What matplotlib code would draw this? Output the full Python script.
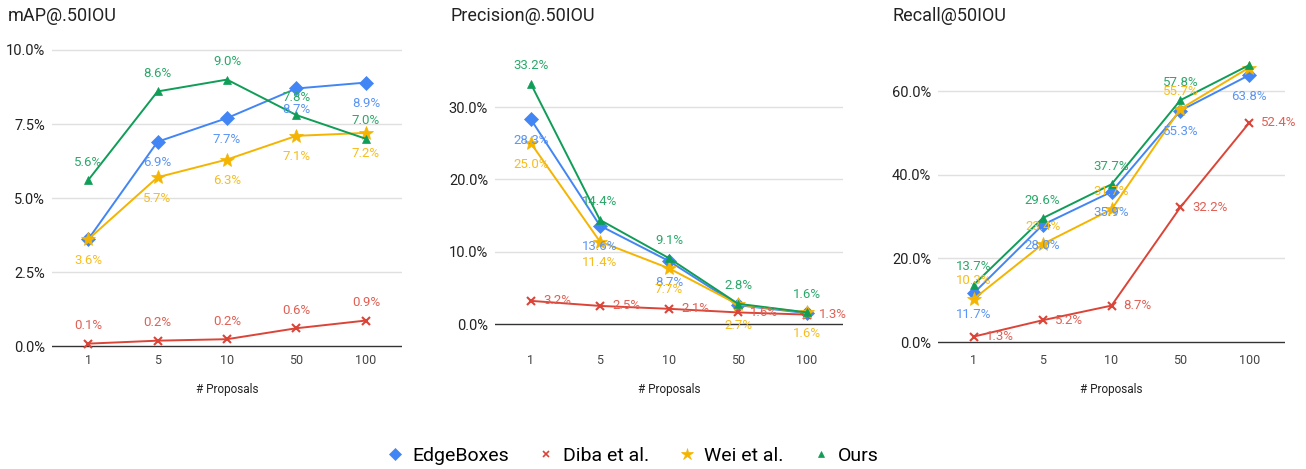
import numpy as np
import matplotlib.pyplot as plt
from matplotlib.lines import Line2D

plt.rcParams['font.family'] = ['Roboto', 'DejaVu Sans']

W, H = 1306, 469

proposals = ['1', '5', '10', '50', '100']
methods = ['EdgeBoxes', 'Diba et al.', 'Wei et al.', 'Ours']

# mAP@.50IOU (%)
map_edge = [3.6, 6.9, 7.7, 8.7, 8.9]
map_diba = [0.08, 0.18, 0.23, 0.6, 0.86]
map_wei = [3.6, 5.7, 6.3, 7.1, 7.2]
map_ours = [5.6, 8.6, 9.0, 7.8, 7.0]

# Precision@.50IOU (%)
prec_edge = [28.3, 13.6, 8.7, 2.6, 1.5]
prec_diba = [3.2, 2.5, 2.1, 1.6, 1.3]
prec_wei = [25.0, 11.4, 7.7, 2.7, 1.6]
prec_ours = [33.2, 14.4, 9.1, 2.8, 1.6]

# Recall@50IOU (%)
rec_edge = [11.7, 28.0, 35.9, 55.3, 63.8]
rec_diba = [1.3, 5.2, 8.7, 32.2, 52.4]
rec_wei = [10.3, 23.4, 31.7, 55.7, 65.6]
rec_ours = [13.7, 29.6, 37.7, 57.8, 66.2]

colors = ['#4285F4', '#DB4437', '#F4B400', '#0F9D58']
label_colors = ['#5B95F5', '#E06055', '#F6BD20', '#2BA86A']
markers = ['D', 'x', '*', '^']
msizes = [7, 6, 10, 6]

# label placement: a = above, b = below, r = right, '' = hidden
place_map = [['', 'b', 'b', 'b', 'b'],
             ['a', 'a', 'a', 'a', 'a'],
             ['b', 'b', 'b', 'b', 'b'],
             ['a', 'a', 'a', 'a', 'a']]
place_prec = [['b', 'b', 'b', '', ''],
              ['r', 'r', 'r', 'r', 'r'],
              ['b', 'b', 'b', 'b', 'b'],
              ['a', 'a', 'a', 'a', 'a']]
place_rec = [['b', 'b', 'b', 'b', 'b'],
             ['r', 'r', 'r', 'r', 'r'],
             ['a', 'a', 'a', 'a', ''],
             ['a', 'a', 'a', 'a', '']]

panels = [
    dict(title='mAP@.50IOU', series=[map_edge, map_diba, map_wei, map_ours],
         place=place_map, yticks=[0, 2.5, 5, 7.5, 10],
         left=52, right=402, zero=346, scale=29.6, title_x=8),
    dict(title='Precision@.50IOU', series=[prec_edge, prec_diba, prec_wei, prec_ours],
         place=place_prec, yticks=[0, 10, 20, 30],
         left=495, right=843, zero=324, scale=7.23, title_x=450),
    dict(title='Recall@50IOU', series=[rec_edge, rec_diba, rec_wei, rec_ours],
         place=place_rec, yticks=[0, 20, 40, 60],
         left=938, right=1285, zero=342, scale=4.183, title_x=893),
]

fig = plt.figure(figsize=(W / 100, H / 100), dpi=100)
top_px, bot_px = 40, 350
x = np.arange(len(proposals))

for p in panels:
    ax = fig.add_axes([p['left'] / W, 1 - bot_px / H,
                       (p['right'] - p['left']) / W, (bot_px - top_px) / H])
    ax.set_xlim(-0.52, len(proposals) - 0.48)
    ax.set_ylim((p['zero'] - bot_px) / p['scale'], (p['zero'] - top_px) / p['scale'])
    for s in ax.spines.values():
        s.set_visible(False)
    for t in p['yticks']:
        if t == 0:
            ax.axhline(0, color='#333333', lw=1, zorder=1)
        else:
            ax.axhline(t, color='#e0e0e0', lw=1, zorder=0)
    ax.set_yticks(p['yticks'])
    ax.set_yticklabels([f'{t:.1f}%' for t in p['yticks']])
    ax.set_xticks(x)
    ax.set_xticklabels(proposals)
    ax.tick_params(axis='y', length=0, pad=5, labelsize=10.5, labelcolor='#222222')
    ax.tick_params(axis='x', length=0, pad=3, labelsize=9, labelcolor='#444444')

    for i, vals in enumerate(p['series']):
        ax.plot(x, vals, color=colors[i], marker=markers[i], ms=msizes[i],
                mew=1.5 if markers[i] == 'x' else 0.5, lw=1.4, zorder=3 + i,
                clip_on=False)
        for j, v in enumerate(vals):
            pos = p['place'][i][j]
            if not pos:
                continue
            if pos == 'a':
                off, ha = (0, 18), 'center'
            elif pos == 'b':
                off, ha = (0, -21), 'center'
            else:
                off, ha = (12, 0), 'left'
            ax.annotate(f'{v:.1f}%', (j, v), xytext=off, textcoords='offset pixels',
                        ha=ha, va='center', fontsize=9.5, color=label_colors[i],
                        zorder=10, annotation_clip=False)

    fig.text(p['title_x'] / W, 1 - 16 / H, p['title'], fontsize=13,
             color='#222222', va='center', ha='left')
    fig.text((p['left'] + p['right']) / 2 / W, 1 - 389 / H, '# Proposals',
             fontsize=8.5, color='#222222', ha='center', va='center')

handles = [Line2D([], [], color=colors[i], marker=markers[i], ls='none',
                  ms=msizes[i] - 1, mew=1.2 if markers[i] == 'x' else 0.5)
           for i in range(4)]
fig.legend(handles, methods, loc='center', bbox_to_anchor=(633 / W, 1 - 456 / H),
           ncol=4, frameon=False, fontsize=14, handlelength=0.8,
           handletextpad=0.5, columnspacing=1.5)

fig.savefig('out.png', dpi=100)
